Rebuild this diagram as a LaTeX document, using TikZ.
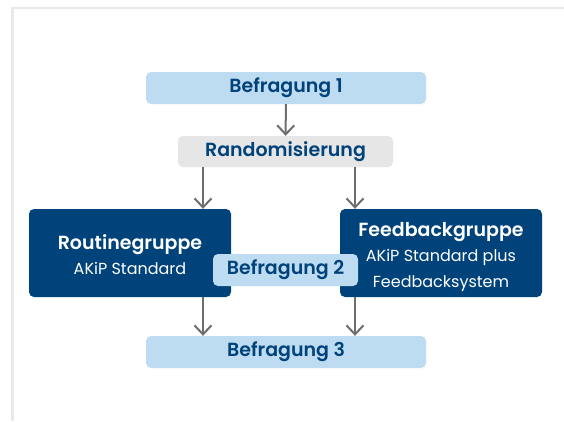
\documentclass[tikz,border=0pt]{standalone}
\usepackage{fontspec}
\setmainfont{Poppins}
\newfontfamily\semib{Poppins SemiBold}
\usetikzlibrary{arrows.meta}
\definecolor{darkblue}{HTML}{00427A}
\definecolor{lightblue}{HTML}{BDDCF2}
\definecolor{randgray}{HTML}{E6E6E6}
\definecolor{arrowgray}{HTML}{6E6E6E}
\definecolor{framegray}{HTML}{E9E9E9}
\begin{document}
\begin{tikzpicture}[x=1pt,y=-1pt,
  survey/.style={fill=lightblue, rounded corners=5pt, text=darkblue,
    font=\semib\fontsize{19}{22}\selectfont, minimum width=280pt,
    minimum height=32pt, inner sep=0pt},
  randbox/.style={fill=randgray, rounded corners=5pt, text=darkblue,
    font=\semib\fontsize{19}{22}\selectfont, minimum width=215pt,
    minimum height=31pt, inner sep=0pt},
  group/.style={fill=darkblue, rounded corners=5pt, text=white,
    minimum width=202pt, minimum height=88pt, inner sep=0pt, align=center,
    font=\fontsize{16}{25.5}\selectfont},
  arr/.style={draw=arrowgray, line width=2pt,
    -{Straight Barb[length=9pt,width=17pt]}}
]
\useasboundingbox (0,0) rectangle (564,421);
\fill[white] (0,0) rectangle (564,421);
% open frame along the top and left edges
\draw[framegray, line width=2.5pt] (12.5,421) -- (12.5,8) -- (564,8);

\coordinate (lx) at (203,0);
\coordinate (rx) at (355,0);

\node[survey] (b1) at (286,88) {Befragung 1};
\node[randbox] (rand) at (285.5,151.5) {Randomisierung};

\node[group] (rg) at (130,253) {%
  {\semib\fontsize{19}{25.5}\selectfont\rule{0pt}{18pt}Routinegruppe}\\
  AKiP Standard};
\node[group] (fg) at (441,253) {%
  {\semib\fontsize{19}{25.5}\selectfont\rule{0pt}{22pt}Feedbackgruppe}\\
  AKiP Standard plus\\
  Feedbacksystem};

\node[survey, minimum width=145pt, minimum height=32pt] (b2) at (285.5,270) {Befragung 2};
\node[survey] (b3) at (286,352) {Befragung 3};

\draw[arr] (b1) -- (rand);
\draw[arr] (rand.south -| lx) -- (rg.north -| lx);
\draw[arr] (rand.south -| rx) -- (fg.north -| rx);
\draw[arr] (rg.south -| lx) -- (b3.north -| lx);
\draw[arr] (fg.south -| rx) -- (b3.north -| rx);
\end{tikzpicture}
\end{document}
